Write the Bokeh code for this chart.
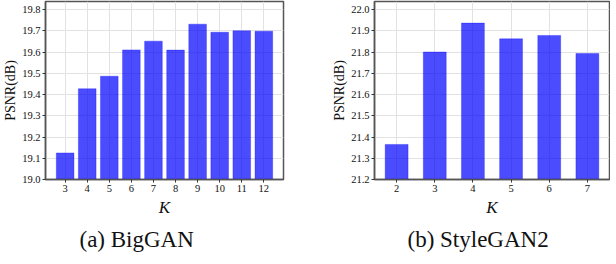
from bokeh.plotting import figure
from bokeh.layouts import row
from bokeh.models import FixedTicker, Range1d, Title, CustomJSTickFormatter
from bokeh.embed import file_html
from bokeh.resources import INLINE

# ---- data ----
biggan_k = [3, 4, 5, 6, 7, 8, 9, 10, 11, 12]
biggan_psnr = [19.125, 19.427, 19.486, 19.610, 19.651, 19.609, 19.731, 19.693, 19.700, 19.698]
biggan_yticks = [19.0, 19.1, 19.2, 19.3, 19.4, 19.5, 19.6, 19.7, 19.8]

stylegan_k = [2, 3, 4, 5, 6, 7]
stylegan_psnr = [21.365, 21.800, 21.936, 21.862, 21.878, 21.793]
stylegan_yticks = [21.2, 21.3, 21.4, 21.5, 21.6, 21.7, 21.8, 21.9, 22.0]

captions = ["(a) BigGAN", "(b) StyleGAN2"]
y_label = "PSNR(dB)"
x_label = "K"

SERIF = "'Liberation Serif', serif"
FRAME = "#555555"
TXT = "#111111"
FH = 178


def make(ks, vals, yticks, bar_w, x_rng, y_rng, caption, bl, fw, br, cap_off):
    p = figure(frame_width=fw, frame_height=FH, output_backend="svg", toolbar_location=None,
               x_range=Range1d(*x_rng), y_range=Range1d(*y_rng),
               min_border_left=bl, min_border_right=br, min_border_top=1, min_border_bottom=74)
    p.vbar(x=ks, top=vals, bottom=y_rng[0], width=bar_w,
           fill_color="blue", fill_alpha=0.7, line_color="blue", line_alpha=0.3, line_width=1)
    p.outline_line_color = FRAME
    p.outline_line_width = 1.5
    p.background_fill_color = "white"
    p.border_fill_color = "white"

    for g in (p.xgrid[0], p.ygrid[0]):
        g.grid_line_color = "#e2e2e2"
        g.grid_line_width = 1
        g.level = "underlay"
    p.xaxis.ticker = FixedTicker(ticks=ks)
    p.yaxis.ticker = FixedTicker(ticks=yticks)
    p.yaxis.formatter = CustomJSTickFormatter(code="return tick.toFixed(1);")

    for ax in (p.xaxis[0], p.yaxis[0]):
        ax.axis_line_color = FRAME
        ax.axis_line_width = 1.5
        ax.major_tick_line_color = "#333333"
        ax.major_tick_out = 3
        ax.major_tick_in = 0
        ax.minor_tick_line_color = None
        ax.major_label_text_font = SERIF
        ax.major_label_text_font_size = "10.5px"
        ax.major_label_text_color = TXT
        ax.major_label_standoff = 2
        ax.axis_label_text_font = SERIF
        ax.axis_label_text_color = TXT
        ax.axis_label_text_font_style = "normal"

    p.yaxis.axis_label = y_label
    p.yaxis.axis_label_text_font_size = "14px"
    p.yaxis.axis_label_standoff = 1
    p.xaxis.axis_label = x_label
    p.xaxis.axis_label_text_font_size = "17px"
    p.xaxis.axis_label_text_font_style = "italic"
    p.xaxis.axis_label_standoff = 3

    t = Title(text=caption, align="left", offset=cap_off, text_font=SERIF,
              text_font_size="23px", text_font_style="normal", text_color=TXT, standoff=11)
    p.add_layout(t, "below")
    return p


p1 = make(biggan_k, biggan_psnr, biggan_yticks, 0.8, (2.11, 12.89),
          (19.0, 19.0 + FH / 212.5), captions[0], 40, 238, 46, 34)
p2 = make(stylegan_k, stylegan_psnr, stylegan_yticks, 0.6, (1.42, 7.58),
          (21.2, 21.2 + FH / 212.5), captions[1], 40, 235, 1, 33)

layout = row(p1, p2)
open("out.html", "w").write(file_html(layout, INLINE))
